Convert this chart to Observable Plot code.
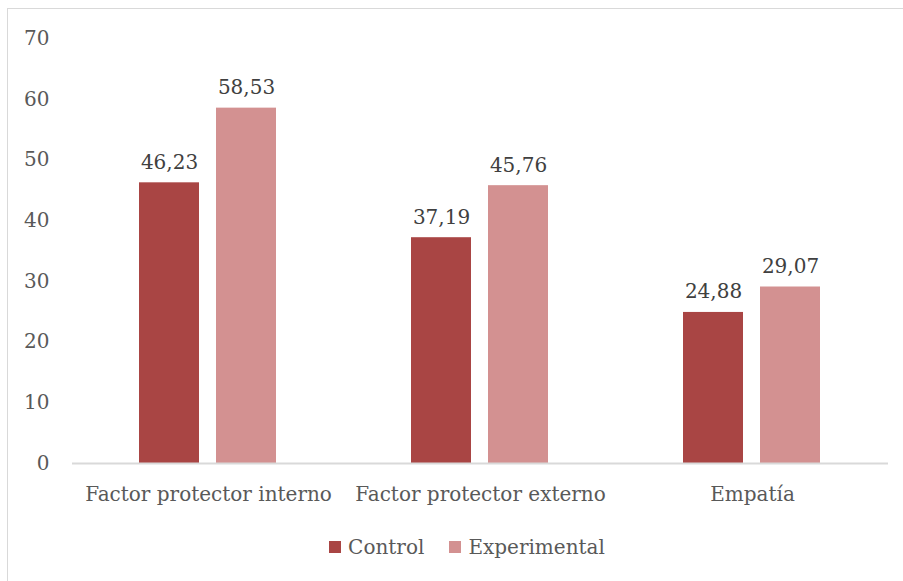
<!DOCTYPE html>
<html>
<head>
<meta charset="utf-8">
<script src="https://cdn.jsdelivr.net/npm/d3@7"></script>
<script src="https://cdn.jsdelivr.net/npm/@observablehq/plot@0.6"></script>
<style>
  html, body { margin: 0; padding: 0; background: #fff; }
  #wrap { position: relative; width: 903px; height: 581px; overflow: hidden; font-family: "DejaVu Serif", serif; }
  #frame { position: absolute; left: 7px; top: 8px; width: 900px; height: 580px; border: 1px solid #D9D9D9; box-sizing: border-box; pointer-events: none; }
  #chart { position: absolute; left: 0; top: 0; }
  #legend { position: absolute; left: 0; width: 903px; top: 535px; display: flex; justify-content: center; gap: 25px; font-size: 20px; color: #595959; padding-left: 31px; box-sizing: border-box; }
  .item { display: flex; align-items: center; gap: 7px; }
  .sw { width: 12px; height: 12px; display: inline-block; }
</style>
</head>
<body>
<div id="wrap">
  <div id="chart"></div>
  <div id="legend"></div>
  <div id="frame"></div>
</div>
<script>
const categories = ["Factor protector interno", "Factor protector externo", "Empatía"];
const series = ["Control", "Experimental"];
const control = [46.23, 37.19, 24.88];
const experimental = [58.53, 45.76, 29.07];
const yTicks = [0, 10, 20, 30, 40, 50, 60, 70];
const colors = ["#A94544", "#D39191"];

const data = categories.flatMap((c, i) => [
  {cat: c, series: series[0], value: control[i]},
  {cat: c, series: series[1], value: experimental[i]}
]);
const fmt = v => v.toFixed(2).replace(".", ",");

const chart = Plot.plot({
  width: 903,
  height: 510,
  marginLeft: 72,
  marginRight: 15,
  marginTop: 38,
  marginBottom: 47,
  style: {fontFamily: "DejaVu Serif, serif", fontSize: "20px", color: "#595959", background: "transparent", overflow: "visible"},
  fx: {domain: categories, padding: 0, label: null},
  x: {domain: series, paddingInner: 0.218, paddingOuter: 0.853, axis: null},
  y: {domain: [0, 70], label: null},
  color: {domain: series, range: colors},
  marks: [
    Plot.barY(data, {fx: "cat", x: "series", y: "value", fill: "series"}),
    Plot.ruleY([0], {stroke: "#D9D9D9", strokeWidth: 2}),
    Plot.text(data, {fx: "cat", x: "series", y: "value", text: d => fmt(d.value), lineAnchor: "bottom", dy: -14, fill: "#404040", fontSize: 20}),
    Plot.axisY(yTicks, {tickSize: 0, tickPadding: 23, label: null, fill: "#595959", fontSize: 20}),
    Plot.axisFx({anchor: "bottom", tickSize: 0, tickPadding: 23, label: null, fill: "#595959", fontSize: 20})
  ]
});
document.getElementById("chart").appendChild(chart);

const legend = document.getElementById("legend");
series.forEach((s, i) => {
  const it = document.createElement("div");
  it.className = "item";
  const sw = document.createElement("span");
  sw.className = "sw";
  sw.style.background = colors[i];
  const t = document.createElement("span");
  t.textContent = s;
  it.appendChild(sw); it.appendChild(t);
  legend.appendChild(it);
});
</script>
</body>
</html>
